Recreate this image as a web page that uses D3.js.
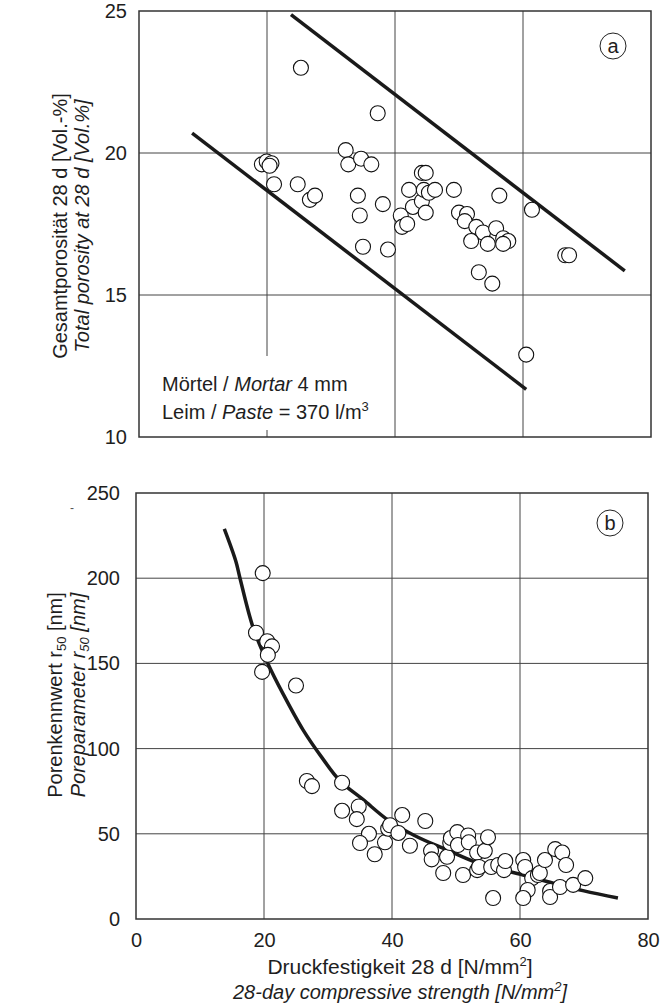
<!DOCTYPE html>
<html>
<head>
<meta charset="utf-8">
<script src="https://cdn.jsdelivr.net/npm/d3@7"></script>
<style>
  body { margin: 0; background: #fff; }
  svg { font-family: "Liberation Sans", Arial, sans-serif; }
</style>
</head>
<body>
<svg id="chart" width="667" height="1003"></svg>
<script>
// panel (a): total porosity vs strength
var porStrength = [25.3, 37.3, 19.2, 19.95, 20.7, 20.4, 21.1, 24.8, 26.7, 27.5, 32.3, 32.7, 34.7, 36.3, 34.2, 34.5,
  38.1, 35.0, 38.9, 40.9, 41.1, 41.9, 42.2, 42.8, 44.2, 44.8, 44.2, 44.5, 45.3, 44.8, 46.25, 49.2, 56.3,
  50.0, 51.25, 50.9, 52.7, 53.75, 51.9, 54.5, 55.8, 56.9, 57.7, 56.9, 61.4, 66.6, 67.2, 53.1, 55.2, 60.5];
var porosity = [23.0, 21.4, 19.6, 19.7, 19.64, 19.55, 18.9, 18.9, 18.35, 18.5, 20.1, 19.6, 19.8, 19.6, 18.5, 17.8,
  18.2, 16.7, 16.6, 17.8, 17.4, 17.5, 18.7, 18.1, 19.3, 19.3, 18.3, 18.7, 18.6, 17.9, 18.7, 18.7, 18.5,
  17.9, 17.85, 17.6, 17.4, 17.2, 16.9, 16.8, 17.35, 17.0, 16.9, 16.8, 18.0, 16.4, 16.4, 15.8, 15.4, 12.9];
// boundary lines of panel (a): [x1, y1, x2, y2]
var upperBound = [23.75, 24.87, 75.9, 15.85];
var lowerBound = [8.3, 20.7, 60.5, 11.68];

// panel (b): pore parameter r50 vs strength
var r50Strength = [19.8, 18.75, 20.5, 21.25, 20.6, 19.7, 25.0, 26.7, 27.5, 32.2, 32.2, 34.8, 34.5, 36.4, 35.0,
  37.3, 38.9, 39.4, 39.7, 41.0, 41.6, 42.8, 45.2, 46.1, 46.2, 48.0, 48.6, 49.1, 49.2, 50.2, 51.1, 50.3,
  51.9, 52.0, 53.3, 54.5, 55.0, 53.3, 53.6, 55.5, 56.6, 57.5, 57.7, 55.8, 60.5, 60.8, 61.9, 62.8, 61.2,
  60.5, 63.1, 63.9, 65.5, 66.6, 67.2, 64.7, 64.7, 66.25, 68.3, 70.2];
var r50 = [203, 168, 163, 160, 155, 145, 137, 81, 78, 80, 63.5, 66, 58.6, 50, 44.6,
  38, 45, 53, 55, 50.5, 61, 43, 57.5, 40, 35, 27, 36.5, 44.6, 47.5, 51, 25.8, 43.4,
  49, 45, 39, 40, 48, 28.7, 30.5, 30.5, 31.7, 28.7, 34, 12.3, 34.6, 30.5, 24, 25.8, 17,
  12.3, 27, 34.6, 41, 39, 31.7, 16.4, 12.9, 18.8, 20, 24];
// fitted curve of panel (b)
var curveX = [13.8, 15.6, 16.25, 18.3, 20.6, 23, 26.1, 29, 31.9, 35.5, 39.4, 43.5, 48.6, 53.3, 60.5, 65.2, 70, 75.3];
var curveY = [229, 210, 200, 171, 150, 132, 111, 95, 81, 70, 58, 49, 40.5, 33, 25.8, 21, 16.5, 12.3];

var xTicks = [0, 20, 40, 60, 80];
var porTicks = [10, 15, 20, 25];
var r50Ticks = [0, 50, 100, 150, 200, 250];

var svg = d3.select("#chart");
var ink = "#1e1e1e";
var fs = "20px";

// scales
var xA = d3.scaleLinear().domain([0, 80]).range([139, 651]);
var yA = d3.scaleLinear().domain([10, 25]).range([437, 11]);
var xB = d3.scaleLinear().domain([0, 80]).range([136, 648]);
var yB = d3.scaleLinear().domain([0, 250]).range([919, 493]);

function grid(g, x, y, xs, ys) {
  g.selectAll(".vg").data(xs).enter().append("line")
    .attr("x1", function(d) { return x(d); }).attr("x2", function(d) { return x(d); })
    .attr("y1", y.range()[0]).attr("y2", y.range()[1])
    .style("stroke", "#444").style("stroke-width", 1);
  g.selectAll(".hg").data(ys).enter().append("line")
    .attr("x1", x.range()[0]).attr("x2", x.range()[1])
    .attr("y1", function(d) { return y(d); }).attr("y2", function(d) { return y(d); })
    .style("stroke", "#444").style("stroke-width", 1);
}

function frame(g, x, y) {
  g.append("rect")
    .attr("x", x.range()[0]).attr("y", y.range()[1])
    .attr("width", x.range()[1] - x.range()[0])
    .attr("height", y.range()[0] - y.range()[1])
    .style("fill", "none").style("stroke", "#333").style("stroke-width", 1.5);
}

function yLabels(g, y, ticks, xr) {
  var ax = g.append("g").attr("transform", "translate(" + xr + ",0)")
    .call(d3.axisLeft(y).tickValues(ticks).tickSize(0).tickPadding(0));
  ax.select(".domain").remove();
  ax.selectAll("text").style("font-size", fs).style("fill", ink)
    .style("font-family", "Liberation Sans, Arial, sans-serif");
}

// ---------- panel (a) ----------
var gA = svg.append("g");
grid(gA, xA, yA, [20, 40, 60], [15, 20]);

// white box behind the note
gA.append("rect").attr("x", 141).attr("y", 356).attr("width", 246).attr("height", 74).style("fill", "#fff");

gA.selectAll(".bound").data([upperBound, lowerBound]).enter().append("line")
  .attr("x1", function(d) { return xA(d[0]); }).attr("y1", function(d) { return yA(d[1]); })
  .attr("x2", function(d) { return xA(d[2]); }).attr("y2", function(d) { return yA(d[3]); })
  .style("stroke", "#1a1a1a").style("stroke-width", 3.5);

gA.selectAll(".pt").data(d3.range(porosity.length)).enter().append("circle")
  .attr("cx", function(i) { return xA(porStrength[i]); })
  .attr("cy", function(i) { return yA(porosity[i]); })
  .attr("r", 7.5)
  .style("fill", "#fff").style("stroke", "#111").style("stroke-width", 1.1);

frame(gA, xA, yA);
yLabels(gA, yA, porTicks, 127);

var note = gA.append("g").style("font-size", fs).style("fill", ink);
var n1 = note.append("text").attr("x", 162).attr("y", 391);
n1.append("tspan").text("Mörtel / ");
n1.append("tspan").style("font-style", "italic").text("Mortar");
n1.append("tspan").text(" 4 mm");
var n2 = note.append("text").attr("x", 162).attr("y", 419);
n2.append("tspan").text("Leim / ");
n2.append("tspan").style("font-style", "italic").text("Paste");
n2.append("tspan").text(" = 370 l/m");
n2.append("tspan").attr("dy", -8).style("font-size", "13px").text("3");

// y title (a)
gA.append("text").attr("transform", "translate(67,226) rotate(-90)")
  .attr("text-anchor", "middle").style("font-size", fs).style("fill", ink)
  .text("Gesamtporosität 28 d [Vol.-%]");
gA.append("text").attr("transform", "translate(89,226) rotate(-90)")
  .attr("text-anchor", "middle").style("font-size", fs).style("fill", ink)
  .style("font-style", "italic").text("Total porosity at 28 d [Vol.%]");

// ---------- panel (b) ----------
var gB = svg.append("g");
grid(gB, xB, yB, [20, 40, 60], [50, 100, 150, 200]);

var line = d3.line()
  .x(function(i) { return xB(curveX[i]); })
  .y(function(i) { return yB(curveY[i]); })
  .curve(d3.curveCatmullRom);
gB.append("path").attr("d", line(d3.range(curveX.length)))
  .style("fill", "none").style("stroke", "#1a1a1a").style("stroke-width", 3.5);

gB.selectAll(".pt").data(d3.range(r50.length)).enter().append("circle")
  .attr("cx", function(i) { return xB(r50Strength[i]); })
  .attr("cy", function(i) { return yB(r50[i]); })
  .attr("r", 7.5)
  .style("fill", "#fff").style("stroke", "#111").style("stroke-width", 1.1);

frame(gB, xB, yB);
yLabels(gB, yB, r50Ticks, 120);

var axB = gB.append("g").attr("transform", "translate(0,919)")
  .call(d3.axisBottom(xB).tickValues(xTicks).tickSize(0).tickPadding(14));
axB.select(".domain").remove();
axB.selectAll("text").style("font-size", fs).style("fill", ink)
  .style("font-family", "Liberation Sans, Arial, sans-serif");

// y title (b)
var tb1 = gB.append("text").attr("transform", "translate(62,695) rotate(-90)")
  .attr("text-anchor", "middle").style("font-size", fs).style("fill", ink);
tb1.append("tspan").text("Porenkennwert r");
tb1.append("tspan").attr("dy", 4).style("font-size", "13px").text("50");
tb1.append("tspan").attr("dy", -4).text(" [nm]");
var tb2 = gB.append("text").attr("transform", "translate(85,695) rotate(-90)")
  .attr("text-anchor", "middle").style("font-size", fs).style("fill", ink).style("font-style", "italic");
tb2.append("tspan").text("Poreparameter r");
tb2.append("tspan").attr("dy", 4).style("font-size", "13px").text("50");
tb2.append("tspan").attr("dy", -4).text(" [nm]");

// x title
var tx1 = gB.append("text").attr("x", 400).attr("y", 974).attr("text-anchor", "middle")
  .style("font-size", "21px").style("fill", ink);
tx1.append("tspan").text("Druckfestigkeit 28 d [N/mm");
tx1.append("tspan").attr("dy", -8).style("font-size", "13px").text("2");
tx1.append("tspan").attr("dy", 8).text("]");
var tx2 = gB.append("text").attr("x", 400).attr("y", 999).attr("text-anchor", "middle")
  .style("font-size", fs).style("fill", ink).style("font-style", "italic");
tx2.append("tspan").text("28-day compressive strength [N/mm");
tx2.append("tspan").attr("dy", -8).style("font-size", "13px").text("2");
tx2.append("tspan").attr("dy", 8).text("]");

// panel tags
[["a", 613, 46], ["b", 610, 523]].forEach(function(p) {
  svg.append("circle").attr("cx", p[1]).attr("cy", p[2]).attr("r", 13)
    .style("fill", "#fff").style("stroke", "#222").style("stroke-width", 1);
  svg.append("text").attr("x", p[1]).attr("y", p[2] + 7).attr("text-anchor", "middle")
    .style("font-size", fs).style("fill", ink).text(p[0]);
});

// small stray mark left of panel (b)
svg.append("text").attr("x", 72).attr("y", 512).attr("text-anchor", "middle")
  .style("font-size", "12px").style("fill", "#555").text("-");
</script>
</body>
</html>
